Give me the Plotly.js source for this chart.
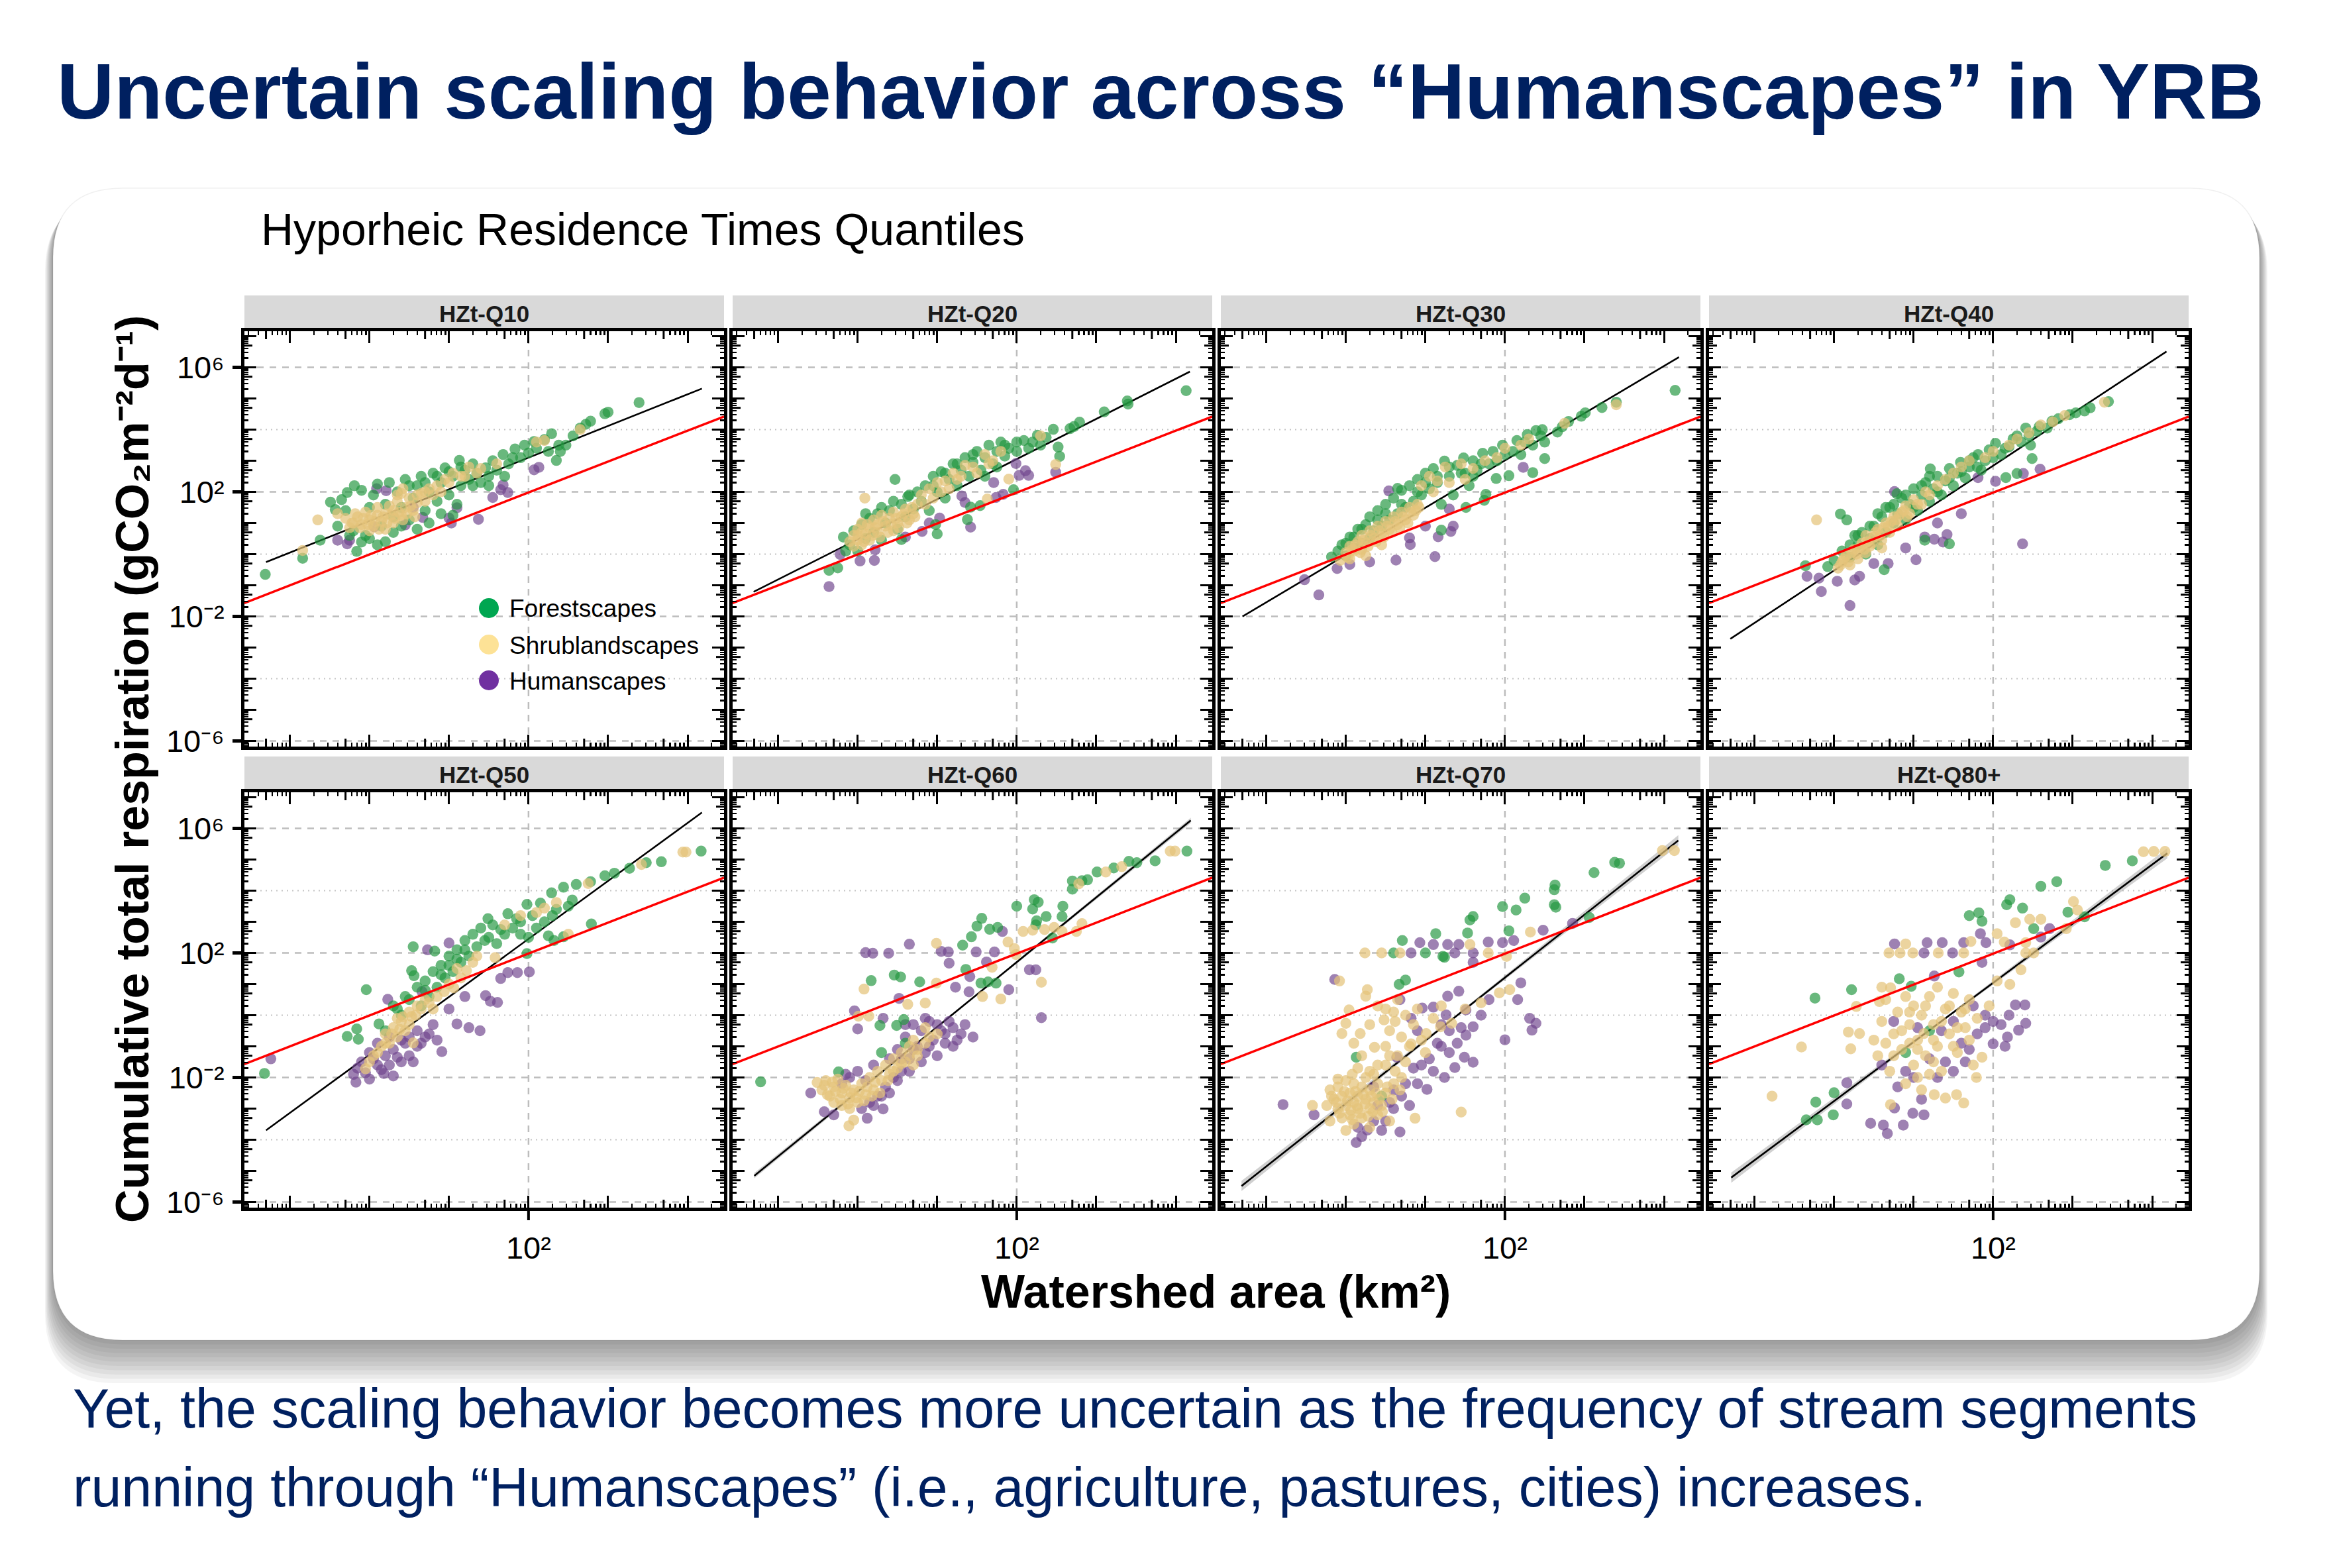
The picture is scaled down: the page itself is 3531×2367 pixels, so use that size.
<!DOCTYPE html>
<html><head><meta charset="utf-8">
<script src="https://cdn.plot.ly/plotly-3.0.1.min.js"></script>
<style>html,body{margin:0;padding:0;background:#fff}#chart{width:3531px;height:2367px}</style>
</head><body><div id="chart"></div>
<script>
// ---------------- DATA (log10 watershed area km², log10 respiration gCO2 m-2 d-1) ----------------
const PANEL_NAMES = ['HZt-Q10','HZt-Q20','HZt-Q30','HZt-Q40','HZt-Q50','HZt-Q60','HZt-Q70','HZt-Q80+'];
const LEGEND_LABELS = ['Forestscapes','Shrublandscapes','Humanscapes'];
const Y_TICK_VALS = [1e-6,1e-2,1e2,1e6];
const Y_TICK_TEXT = ['10⁻⁶','10⁻²','10²','10⁶'];
const X_TICK_VALS = [1e2];
const X_TICK_TEXT = ['10²'];
const Y_MINOR_GRID = [1e-4,1,1e4];

const Q10_FOREST = [[-1.31,-0.65],[-0.84,-0.13],[-0.62,0.45],[-0.49,1.67],[-0.43,1.43],[-0.28,1.98],[-0.19,2.2],[-0.16,0.09],[-0.10,0.39],[-0.05,0.6],[0.0,1.5],[0.05,1.9],[0.1,2.25],[0.15,0.9],[0.2,1.6],[0.25,2.3],[0.3,1.2],[0.35,2.0],[0.4,1.5],[0.45,2.4],[0.5,1.1],[0.55,1.8],[0.6,2.2],[0.65,2.5],[0.7,1.4],[0.75,2.0],[0.8,2.6],[0.85,1.7],[0.9,2.3],[0.95,2.77],[1.0,1.9],[1.05,2.5],[1.13,3.01],[1.15,2.2],[1.2,2.7],[1.25,2.4],[1.3,2.9],[1.35,2.6],[1.4,2.3],[1.46,2.77],[1.5,2.5],[1.55,3.0],[1.6,2.7],[1.68,3.2],[1.75,2.9],[1.83,3.38],[1.9,3.1],[1.95,3.5],[2.0,3.25],[2.07,3.62],[2.2,3.68],[2.29,3.87],[2.38,3.5],[2.35,3.01],[2.47,3.5],[2.56,3.8],[2.65,4.05],[2.72,4.17],[2.78,4.27],[2.96,4.51],[3.0,4.56],[3.39,4.87],[0.75,1.0],[0.9,1.3],[1.1,1.6],[0.6,0.8],[-0.3,1.4],[-0.2,0.75],[0.1,0.3],[0.3,0.7],[1.05,1.25],[-0.35,1.75],[-0.1,2.05],[-0.4,0.9],[-0.25,0.6],[0.0,0.5],[0.2,0.4],[0.4,0.9],[0.5,2.2],[0.7,2.3],[0.85,2.5],[1.0,2.65],[1.15,2.8],[1.3,2.2],[1.5,2.2],[1.7,2.5],[1.8,3.1],[2.1,3.4],[2.25,3.3],[2.4,3.3]];
const Q10_SHRUB = [[-0.84,0.12],[-0.65,1.10],[-0.40,1.30],[-0.30,1.15],[-0.25,0.85],[-0.2,1.0],[-0.15,1.2],[-0.1,0.95],[-0.05,1.35],[0.0,1.1],[0.0,0.75],[0.05,0.9],[0.1,1.25],[0.1,1.5],[0.15,1.05],[0.2,1.3],[0.2,0.8],[0.25,1.55],[0.3,1.0],[0.3,1.4],[0.35,1.7],[0.4,1.25],[0.4,1.95],[0.45,1.5],[0.5,1.8],[0.55,1.4],[0.6,1.65],[0.65,1.95],[0.7,1.7],[0.75,2.1],[0.8,1.9],[0.85,2.2],[0.95,2.4],[1.05,2.6],[1.15,2.5],[1.25,2.8],[1.4,2.75],[1.6,2.9],[2.1,3.6],[2.2,3.65],[2.65,4.0],[-0.22,1.0],[-0.18,1.3],[-0.12,0.85],[-0.08,1.15],[-0.02,0.95],[0.02,1.25],[0.07,1.05],[0.12,0.8],[0.17,1.2],[0.22,1.0],[0.27,1.25],[0.32,1.15],[0.37,1.35],[0.42,1.1],[0.47,1.3],[0.52,1.55],[0.57,1.2],[0.35,1.9],[0.42,2.1],[0.6,1.9],[0.7,2.0],[0.9,2.0],[1.0,2.3],[1.2,2.5],[1.35,2.6]];
const Q10_HUMAN = [[-0.40,0.45],[-0.28,0.33],[-0.25,0.45],[0.06,0.88],[0.09,2.1],[0.21,2.04],[0.45,0.94],[0.55,1.5],[0.67,1.18],[1.0,1.16],[1.03,1.0],[1.1,1.49],[1.37,1.12],[1.55,1.82],[1.65,2.07],[1.68,2.22],[1.74,1.98],[2.07,2.71],[2.13,2.79]];

const Q20_FOREST = [[-0.36,-0.52],[-0.25,-0.44],[-0.18,0.55],[-0.1,0.3],[-0.05,0.75],[0.0,0.1],[0.05,0.95],[0.1,0.5],[0.15,1.15],[0.2,0.7],[0.25,1.3],[0.3,0.45],[0.35,1.0],[0.4,1.4],[0.47,2.4],[0.5,0.8],[0.55,1.6],[0.55,0.47],[0.6,1.2],[0.63,1.85],[0.7,1.45],[0.75,2.0],[0.8,1.7],[0.85,2.2],[0.9,1.4],[0.95,2.5],[0.98,0.95],[1.0,2.0],[1.0,0.65],[1.05,2.65],[1.1,1.8],[1.15,2.4],[1.2,2.9],[1.25,2.2],[1.3,2.7],[1.35,3.1],[1.38,1.11],[1.4,2.5],[1.42,1.51],[1.45,2.95],[1.5,3.3],[1.54,1.56],[1.55,2.7],[1.6,3.1],[1.65,3.5],[1.7,2.9],[1.75,3.3],[1.8,3.6],[1.85,3.15],[1.9,3.4],[1.96,2.07],[2.0,3.6],[2.09,3.65],[2.15,3.4],[2.26,3.82],[2.37,3.75],[2.46,4.01],[2.52,3.44],[2.54,3.14],[2.67,4.03],[2.72,4.1],[2.79,4.24],[3.1,4.57],[3.39,4.92],[3.4,4.82],[4.13,5.25],[-0.15,0.1],[0.1,1.3],[0.3,1.5],[0.45,1.7],[0.65,1.9],[0.95,2.2],[1.1,2.6],[1.25,2.9],[1.45,3.2],[1.6,2.5],[1.75,2.8],[1.85,3.5],[2.0,3.3],[2.2,3.6],[2.3,3.5]];
const Q20_SHRUB = [[-0.1,0.4],[-0.05,0.6],[0.0,0.45],[0.0,0.8],[0.05,0.3],[0.05,1.0],[0.09,1.8],[0.1,0.65],[0.15,0.85],[0.15,0.45],[0.2,1.1],[0.25,0.7],[0.25,0.95],[0.3,1.25],[0.35,0.9],[0.4,1.15],[0.45,0.75],[0.45,1.35],[0.5,1.0],[0.55,1.2],[0.6,1.45],[0.65,1.1],[0.7,1.3],[0.75,1.6],[0.8,1.9],[0.9,2.1],[1.0,2.3],[1.1,2.35],[1.2,2.6],[1.3,2.5],[1.35,2.85],[1.45,2.8],[1.6,3.2],[1.63,1.77],[1.65,2.9],[1.8,3.3],[1.9,2.41],[2.3,3.8],[2.49,2.88],[-0.05,0.25],[0.0,0.6],[0.05,0.7],[0.08,0.4],[0.12,0.95],[0.18,0.6],[0.22,0.85],[0.28,0.55],[0.32,1.05],[0.38,0.7],[0.42,0.95],[0.48,1.15],[0.52,0.85],[0.58,1.3],[0.62,1.0],[0.68,1.5],[0.72,1.2],[0.85,1.6],[0.95,1.8],[1.05,2.0],[1.15,2.1],[1.25,2.4],[1.5,2.6],[1.7,3.0]];
const Q20_HUMAN = [[-0.36,-1.04],[-0.22,-0.01],[0.03,-0.22],[0.21,-0.2],[0.22,0.14],[0.6,0.55],[0.81,0.73],[0.9,1.0],[1.03,1.16],[1.31,1.87],[1.35,1.66],[1.42,0.87],[1.71,2.3],[1.74,1.82],[1.83,1.92],[1.99,2.91],[2.03,2.53],[2.11,2.68],[2.15,2.53],[2.49,2.63]];

const Q30_FOREST = [[-0.18,-0.09],[-0.1,0.1],[-0.05,0.3],[0.0,-0.05],[0.05,0.55],[0.1,0.2],[0.15,0.8],[0.2,0.35],[0.25,0.95],[0.3,0.5],[0.3,1.2],[0.35,0.75],[0.4,1.4],[0.45,0.9],[0.5,1.6],[0.55,1.1],[0.6,1.8],[0.65,1.3],[0.65,2.11],[0.7,2.05],[0.75,1.5],[0.8,2.2],[0.85,1.7],[0.9,2.4],[0.95,1.9],[1.0,2.6],[1.05,2.1],[1.1,2.75],[1.15,2.3],[1.2,1.6],[1.2,0.77],[1.24,2.99],[1.3,2.5],[1.35,1.9],[1.4,2.85],[1.48,3.09],[1.5,2.6],[1.51,1.5],[1.55,2.2],[1.6,3.0],[1.65,2.7],[1.72,3.24],[1.74,1.73],[1.76,1.92],[1.8,2.9],[1.85,3.3],[1.89,2.43],[1.97,3.5],[2.05,2.52],[2.1,3.3],[2.15,3.65],[2.2,3.2],[2.28,3.84],[2.35,3.5],[2.35,2.62],[2.39,3.97],[2.47,4.0],[2.5,3.07],[2.5,3.6],[2.66,3.92],[2.72,4.09],[2.8,4.26],[2.96,4.43],[3.01,4.54],[3.22,4.71],[3.4,4.88],[4.14,5.26],[0.0,0.35],[0.1,0.55],[0.2,0.8],[0.4,1.1],[0.5,1.3],[0.7,1.6],[0.9,2.0],[1.0,2.3],[1.15,2.5],[1.3,2.8],[1.45,2.6],[1.6,2.5],[1.7,2.9],[1.9,3.0],[2.0,3.2],[2.25,3.6],[2.45,3.8]];
const Q30_SHRUB = [[-0.07,-0.2],[0.0,0.05],[0.05,-0.15],[0.05,0.25],[0.1,0.1],[0.15,0.4],[0.2,0.15],[0.2,0.6],[0.25,0.35],[0.25,-0.05],[0.3,0.75],[0.35,0.5],[0.4,0.9],[0.45,0.65],[0.45,0.3],[0.5,1.05],[0.55,0.8],[0.6,1.2],[0.65,0.95],[0.7,1.35],[0.75,1.1],[0.8,1.5],[0.85,1.25],[0.9,1.6],[0.95,2.2],[1.05,2.5],[1.15,2.35],[1.25,2.8],[1.45,2.9],[1.6,2.75],[1.75,3.0],[2.0,3.4],[2.3,3.7],[2.75,4.2],[3.4,4.8],[0.02,-0.1],[0.08,0.15],[0.12,0.3],[0.18,0.05],[0.22,0.45],[0.28,0.25],[0.32,0.6],[0.38,0.4],[0.42,0.75],[0.48,0.55],[0.52,0.9],[0.58,0.7],[0.62,1.05],[0.68,0.85],[0.72,1.2],[0.78,1.0],[0.82,1.35],[0.88,1.4],[0.92,1.5],[1.1,2.0],[1.3,2.3],[1.5,2.4],[1.9,3.1],[2.2,3.5]];
const Q30_HUMAN = [[-0.52,-0.82],[-0.34,-1.31],[-0.11,-0.46],[0.05,-0.33],[0.3,-0.25],[0.54,2.03],[0.63,-0.19],[0.8,0.52],[0.81,0.31],[1.0,0.9],[1.12,-0.08],[1.16,0.56],[1.3,1.45],[1.32,0.73],[1.35,0.9],[2.23,2.79]];

const Q40_FOREST = [[-0.36,-0.37],[-0.08,-0.4],[0.0,-0.2],[0.08,1.29],[0.1,0.1],[0.16,1.1],[0.2,-0.1],[0.26,0.6],[0.3,0.3],[0.35,0.7],[0.4,0.0],[0.45,0.5],[0.5,0.9],[0.55,0.3],[0.6,1.2],[0.63,-0.5],[0.65,0.7],[0.7,1.5],[0.75,1.0],[0.79,1.94],[0.8,1.3],[0.85,1.8],[0.9,1.1],[0.95,1.6],[1.0,2.1],[1.05,1.4],[1.1,1.9],[1.14,0.45],[1.15,2.3],[1.2,1.7],[1.21,2.74],[1.25,2.1],[1.3,2.5],[1.35,1.9],[1.4,2.35],[1.45,2.75],[1.45,0.33],[1.5,2.2],[1.55,2.6],[1.59,2.95],[1.65,2.45],[1.7,2.8],[1.75,3.1],[1.81,3.2],[1.85,2.7],[1.9,3.0],[1.95,3.35],[2.03,3.56],[2.1,3.2],[2.16,2.46],[2.2,3.45],[2.3,3.8],[2.3,2.59],[2.35,3.6],[2.41,4.05],[2.47,3.5],[2.49,3.07],[2.58,4.1],[2.68,4.05],[2.74,4.27],[2.82,4.35],[2.96,4.48],[3.04,4.54],[3.15,4.6],[3.22,4.7],[3.45,4.9],[0.2,0.3],[0.3,0.6],[0.45,0.9],[0.55,1.3],[0.65,1.5],[0.75,1.6],[0.9,1.9],[1.0,1.5],[1.1,2.2],[1.2,2.5],[1.3,2.0],[1.45,2.45],[1.6,2.65],[1.7,3.0],[1.8,2.8],[2.0,3.1],[2.15,3.4],[2.25,3.7],[2.45,3.8],[2.55,3.95]];
const Q40_SHRUB = [[-0.22,1.1],[0.05,-0.45],[0.1,-0.25],[0.15,-0.05],[0.2,-0.35],[0.25,0.15],[0.3,-0.15],[0.35,0.35],[0.4,0.05],[0.4,0.6],[0.45,0.25],[0.5,0.55],[0.55,0.8],[0.6,0.45],[0.6,0.2],[0.65,1.0],[0.7,0.7],[0.75,1.2],[0.8,0.9],[0.85,1.35],[0.9,1.55],[0.95,1.3],[1.0,1.75],[1.1,1.6],[1.15,2.0],[1.3,2.2],[1.5,2.6],[1.7,3.0],[1.9,3.1],[2.2,3.5],[2.45,3.9],[2.6,4.15],[2.75,4.25],[2.9,4.45],[3.4,4.88],[0.08,-0.35],[0.12,-0.15],[0.18,-0.25],[0.22,0.05],[0.28,0.0],[0.32,0.2],[0.38,0.15],[0.42,0.4],[0.48,0.35],[0.52,0.7],[0.58,0.6],[0.62,0.85],[0.68,0.9],[0.72,1.05],[0.78,1.1],[0.82,1.25],[0.88,1.4],[0.92,1.2],[1.05,1.6],[1.2,1.9],[1.4,2.4],[1.6,2.8],[2.0,3.3],[2.3,3.7]];
const Q40_HUMAN = [[-0.34,-0.71],[-0.19,-0.77],[-0.16,-1.2],[0.04,-0.87],[0.2,-1.65],[0.26,-0.83],[0.32,-0.71],[0.5,-0.3],[0.68,-0.3],[0.76,2.01],[0.9,0.2],[1.03,-0.18],[1.14,0.55],[1.26,0.48],[1.3,1.0],[1.37,0.39],[1.42,0.63],[1.6,1.3],[1.81,2.46],[2.03,2.34],[2.37,0.33],[2.38,2.59],[2.59,2.73]];

const Q50_FOREST = [[-1.32,-1.87],[-0.28,-0.68],[-0.16,-0.44],[-0.14,-0.77],[-0.04,0.82],[0.12,-0.28],[0.55,2.2],[0.82,2.06],[0.53,1.43],[0.56,1.27],[0.3,0.3],[0.4,0.0],[0.45,0.6],[0.6,0.9],[0.65,0.3],[0.7,1.1],[0.75,0.6],[0.8,1.4],[0.85,0.9],[0.9,1.6],[0.95,1.2],[1.0,1.9],[1.05,1.4],[1.1,2.1],[1.15,1.7],[1.2,2.4],[1.25,1.9],[1.3,2.6],[1.35,2.2],[1.4,2.8],[1.49,3.1],[1.5,2.5],[1.55,2.9],[1.6,2.3],[1.65,2.75],[1.74,3.26],[1.8,2.8],[1.85,3.1],[1.9,2.6],[1.98,3.56],[1.98,1.98],[2.05,3.2],[2.1,2.8],[2.15,3.6],[2.2,3.0],[2.25,2.55],[2.29,3.93],[2.32,2.4],[2.35,3.4],[2.44,2.52],[2.44,4.11],[2.55,3.7],[2.6,4.2],[2.78,4.29],[2.79,2.93],[2.96,4.48],[3.08,4.56],[3.27,4.72],[3.48,4.9],[3.67,4.93],[4.17,5.27],[0.2,-0.5],[0.35,0.2],[0.5,0.5],[0.7,0.8],[0.9,1.3],[1.0,1.6],[1.1,1.8],[1.2,2.1],[1.45,2.4],[1.7,2.6],[1.9,3.0],[2.0,2.5],[2.3,3.2],[2.5,3.5]];
const Q50_SHRUB = [[-0.05,-1.72],[0.05,-1.3],[0.15,-1.0],[0.2,-0.6],[0.25,-0.9],[0.3,-0.4],[0.35,-0.7],[0.35,-0.1],[0.4,-0.2],[0.45,-0.5],[0.5,0.1],[0.53,-0.04],[0.55,-0.89],[0.6,0.3],[0.7,0.5],[0.8,0.2],[0.94,0.76],[1.06,0.88],[1.15,1.2],[1.22,1.43],[1.35,1.9],[1.58,1.85],[1.7,2.9],[1.9,3.2],[2.1,3.3],[2.2,3.44],[2.35,3.62],[2.5,2.6],[2.75,4.23],[3.42,4.84],[3.94,5.24],[3.98,5.24],[0.0,-1.5],[0.1,-1.2],[0.2,-0.9],[0.28,-0.6],[0.38,-0.45],[0.42,-0.05],[0.5,-0.3],[0.58,0.0],[0.65,0.2],[0.75,0.4],[0.85,0.6],[1.0,1.0],[1.1,1.5],[1.3,1.7]];
const Q50_HUMAN = [[-1.24,-1.4],[-0.2,-1.9],[-0.17,-2.15],[-0.1,-1.5],[0.0,-2.05],[0.0,-1.2],[0.1,-1.6],[0.1,-0.9],[0.18,-1.87],[0.2,-1.3],[0.23,0.51],[0.3,-1.95],[0.3,-1.1],[0.4,-1.5],[0.45,-0.9],[0.5,-1.3],[0.6,-1.0],[0.6,-0.5],[0.66,0.76],[0.7,-0.7],[0.73,2.1],[0.8,-0.3],[0.91,-1.17],[1.0,2.32],[1.0,0.2],[1.1,-0.28],[1.2,0.6],[1.25,-0.4],[1.39,-0.5],[1.46,0.63],[1.52,0.45],[1.61,0.41],[1.65,1.18],[1.74,1.37],[1.86,1.37],[2.01,1.39],[-0.15,-1.7],[-0.05,-1.85],[0.05,-1.4],[0.15,-1.75],[0.25,-1.6],[0.25,-0.7],[0.35,-1.35],[0.4,-0.8],[0.5,-0.7],[0.55,-1.5],[0.65,-0.9],[0.75,-0.6],[0.85,-0.8]];

const Q60_FOREST = [[-1.22,-2.14],[-0.24,-1.82],[0.17,1.11],[0.28,-0.33],[0.3,-1.2],[0.46,1.29],[0.49,-0.33],[0.54,1.23],[0.58,-0.14],[0.6,-0.9],[0.78,1.07],[1.32,2.25],[1.36,1.47],[1.43,2.52],[1.5,2.86],[1.55,1.03],[1.56,3.11],[1.64,1.07],[1.66,2.76],[1.74,1.03],[1.76,2.82],[2.0,3.5],[2.2,3.41],[2.22,3.71],[2.24,2.9],[2.25,3.03],[2.27,3.63],[2.37,3.17],[2.45,2.48],[2.57,3.17],[2.58,3.5],[2.7,4.31],[2.7,4.05],[2.82,4.32],[2.89,4.35],[3.01,4.6],[3.22,4.73],[3.41,4.94],[3.51,4.9],[3.74,4.96],[4.14,5.27]];
const Q60_SHRUB = [[-0.51,-2.16],[-0.45,-2.4],[-0.4,-2.1],[-0.35,-2.6],[-0.3,-2.3],[-0.3,-2.8],[-0.25,-2.05],[-0.2,-2.5],[-0.2,-2.9],[-0.15,-2.25],[-0.11,-3.55],[-0.1,-2.65],[-0.1,-3.0],[-0.05,-2.4],[-0.05,-3.37],[0.0,-2.8],[0.05,-2.2],[0.1,-2.55],[0.15,-2.0],[0.2,-2.4],[0.25,-1.8],[0.3,-2.1],[0.35,-1.6],[0.4,-1.9],[0.45,-1.4],[0.5,-1.7],[0.55,-1.2],[0.6,-1.5],[0.65,-1.0],[0.7,-0.8],[0.75,-1.3],[0.85,-0.4],[0.9,-0.7],[0.01,-0.03],[0.14,-0.03],[0.08,0.84],[0.63,0.35],[0.85,0.39],[0.99,1.03],[0.99,2.31],[1.57,0.6],[1.8,0.52],[1.69,1.54],[1.89,2.35],[1.99,1.95],[1.97,2.14],[2.08,2.69],[2.2,2.73],[2.31,1.06],[2.35,2.75],[2.47,2.82],[2.57,2.69],[2.75,2.69],[2.78,4.22],[2.82,2.94],[3.12,4.6],[3.32,4.77],[3.93,5.27],[3.99,5.27],[-0.42,-2.25],[-0.38,-2.55],[-0.32,-2.15],[-0.28,-2.45],[-0.22,-2.7],[-0.18,-2.35],[-0.12,-2.85],[-0.08,-2.5],[-0.02,-2.65],[0.02,-2.45],[0.08,-2.75],[0.12,-2.3],[0.18,-2.6],[0.22,-2.15],[0.28,-2.5],[0.38,-2.1],[0.45,-1.8],[0.55,-1.55],[0.65,-1.3],[0.75,-1.1],[0.85,-0.9],[1.0,-0.6],[0.7,-1.6]];
const Q60_HUMAN = [[-0.59,-2.5],[-0.42,-3.1],[-0.3,-3.2],[-0.15,-1.9],[-0.04,0.14],[0.0,-1.8],[0.0,-0.44],[0.05,-3.0],[0.1,2.01],[0.12,-3.31],[0.15,-2.8],[0.19,1.99],[0.2,-1.6],[0.25,-2.6],[0.32,-3.01],[0.32,-0.1],[0.35,-2.3],[0.39,1.99],[0.4,-1.4],[0.45,-2.0],[0.5,-1.1],[0.52,0.54],[0.55,-1.8],[0.6,-0.7],[0.65,2.28],[0.65,-1.4],[0.7,-0.3],[0.75,-1.0],[0.8,-0.5],[0.85,-1.2],[0.9,-0.2],[0.95,-0.8],[1.0,-1.3],[1.05,-0.5],[1.05,2.05],[1.1,-0.9],[1.14,2.03],[1.15,-0.2],[1.15,1.67],[1.2,-1.0],[1.23,0.9],[1.3,-0.6],[1.4,0.75],[1.41,1.24],[1.45,-0.7],[1.49,2.03],[1.62,1.71],[1.72,2.03],[1.82,2.69],[1.9,0.82],[2.16,1.46],[2.24,1.46],[2.31,-0.08],[-0.2,-2.2],[-0.1,-2.0],[0.1,-2.1],[0.2,-2.9],[0.3,-2.6],[0.4,-2.5],[0.5,-2.1],[0.55,-1.4],[0.65,-1.8],[0.7,-1.1],[0.8,-1.5],[0.9,-1.0],[1.0,-0.3],[1.1,-0.6],[1.2,-0.4],[1.25,-0.8],[1.35,-0.3],[0.85,-0.1],[0.6,-0.3]];

const Q70_FOREST = [[0.13,-1.35],[0.45,-2.6],[0.6,2.0],[0.67,0.99],[0.71,2.4],[0.75,1.13],[1.0,2.0],[1.13,2.62],[1.22,1.89],[1.24,1.86],[1.53,2.64],[1.56,3.06],[1.6,3.17],[1.97,3.49],[2.05,2.71],[2.14,3.38],[2.25,3.76],[2.62,3.55],[2.62,4.03],[2.63,4.18],[2.64,3.47],[3.06,3.14],[3.12,4.58],[3.38,4.91],[3.44,4.88]];
const Q70_SHRUB = [[-0.42,-2.9],[-0.24,-2.9],[-0.2,-2.4],[-0.2,-3.4],[-0.15,-2.7],[-0.1,-2.3],[-0.1,-3.0],[-0.1,-2.05],[-0.05,-2.6],[-0.05,-3.3],[0.0,-2.1],[0.0,-2.9],[0.0,-3.7],[0.05,-2.5],[0.05,-3.2],[0.08,-1.9],[0.1,-2.2],[0.1,-2.8],[0.1,-3.5],[0.15,-2.6],[0.15,-3.0],[0.2,-2.3],[0.2,-3.3],[0.25,-2.7],[0.25,-2.0],[0.3,-3.0],[0.3,-2.4],[0.3,-3.6],[0.35,-2.8],[0.35,-1.9],[0.4,-3.2],[0.4,-2.2],[0.45,-2.9],[0.5,-2.5],[0.5,-1.6],[0.55,-3.4],[0.6,-2.2],[0.65,-1.3],[0.7,-2.0],[-0.05,-0.59],[0.0,-0.26],[0.04,0.17],[0.27,0.82],[0.25,0.61],[-0.08,1.1],[0.48,-0.15],[0.82,-0.92],[1.01,-0.59],[1.19,-0.37],[1.33,-0.26],[0.36,-1.03],[0.18,-0.59],[0.3,-0.3],[0.4,0.3],[0.55,-0.5],[0.6,0.1],[0.65,0.5],[0.7,-0.7],[0.85,-0.3],[0.9,0.2],[1.1,-0.1],[1.2,0.3],[1.5,0.2],[1.7,0.4],[1.93,0.72],[2.06,0.82],[1.45,-3.11],[0.87,-3.31],[0.2,-1.3],[0.5,-1.0],[0.75,-1.5],[1.0,-1.2],[0.1,-0.9],[0.24,2.0],[0.45,2.0],[0.68,2.0],[1.79,2.0],[2.02,1.89],[2.32,2.67],[1.56,2.27],[3.98,5.29],[4.13,5.29],[-0.18,-2.6],[-0.12,-2.8],[-0.08,-3.15],[-0.02,-2.45],[0.02,-2.75],[0.06,-3.05],[0.08,-3.35],[0.12,-2.45],[0.14,-2.9],[0.18,-3.15],[0.22,-2.55],[0.24,-2.85],[0.28,-3.25],[0.32,-2.6],[0.34,-3.1],[0.38,-2.5],[0.42,-2.7],[0.46,-3.1],[0.52,-2.3],[0.58,-2.7],[0.62,-1.8],[0.68,-2.4],[0.4,-1.6],[0.55,-1.3],[0.3,-1.8],[0.15,-1.7],[0.8,-1.0],[0.95,-0.8],[0.62,-0.2],[0.75,0.0],[0.5,0.2]];
const Q70_HUMAN = [[-0.79,-2.87],[-0.4,-3.2],[-0.14,1.15],[0.13,-4.09],[0.2,-3.9],[0.27,-3.69],[0.35,-2.3],[0.45,-3.7],[0.5,-3.4],[0.6,-3.0],[0.64,-1.35],[0.68,-3.75],[0.68,0.5],[0.7,-2.6],[0.8,-2.9],[0.82,-0.1],[0.82,2.0],[0.9,-2.2],[0.93,2.33],[0.95,-1.6],[0.96,0.23],[1.02,-2.38],[1.1,0.26],[1.1,-1.8],[1.1,2.27],[1.15,-0.9],[1.24,-2.0],[1.26,0.01],[1.28,0.61],[1.28,2.27],[1.3,-1.2],[1.3,-0.5],[1.37,-1.68],[1.37,2.0],[1.4,-0.9],[1.42,0.77],[1.42,2.27],[1.49,-1.35],[1.51,0.17],[1.51,-0.64],[1.6,-0.37],[1.6,-1.51],[1.6,2.0],[1.6,1.7],[1.7,0.0],[1.79,2.35],[1.8,0.5],[1.97,2.33],[2.0,-0.79],[2.11,2.4],[2.16,0.5],[2.2,1.04],[2.31,-0.1],[2.34,-0.48],[2.39,-0.26],[2.48,2.73],[2.85,2.95],[0.15,-3.6],[0.35,-3.4],[0.4,-2.9],[0.55,-2.8],[0.6,-2.4],[0.75,-2.2],[0.85,-1.7],[1.05,-1.4],[1.2,-1.0],[1.45,-0.4],[1.2,-0.3],[0.9,-0.5]];

const Q80_FOREST = [[-0.35,-3.36],[-0.24,0.55],[-0.23,-2.79],[-0.21,-3.36],[-0.01,-3.2],[0.0,-2.49],[0.22,0.82],[0.82,1.17],[0.9,-1.2],[0.97,0.93],[1.2,-0.5],[1.57,1.39],[1.7,3.2],[1.82,3.29],[1.86,3.02],[2.17,3.55],[2.21,3.71],[2.37,3.44],[2.51,2.78],[2.6,4.14],[2.8,4.29],[2.94,3.31],[3.15,3.16],[3.41,4.81],[3.75,4.96]];
const Q80_SHRUB = [[-0.78,-2.6],[-0.41,-1.02],[0.18,-0.54],[0.21,-1.08],[0.28,0.28],[0.32,-0.59],[0.5,-0.8],[0.55,-1.3],[0.57,0.44],[0.6,-0.2],[0.6,0.9],[0.65,0.5],[0.7,-1.8],[0.71,-2.87],[0.71,0.88],[0.75,-0.6],[0.8,0.1],[0.85,-1.1],[0.9,-2.2],[0.9,0.6],[0.95,-0.3],[0.95,-0.9],[1.0,-1.6],[1.0,0.3],[1.05,-0.8],[1.1,-2.4],[1.1,0.0],[1.13,-0.59],[1.15,-1.3],[1.2,0.6],[1.2,-1.9],[1.25,-0.3],[1.26,-2.55],[1.3,-1.0],[1.3,0.9],[1.35,-1.8],[1.4,0.2],[1.4,-2.66],[1.45,-0.6],[1.5,0.7],[1.54,-2.55],[1.55,-1.2],[1.6,0.1],[1.63,-2.82],[1.65,-0.4],[1.7,0.5],[1.75,-1.6],[1.79,-2.0],[1.8,-0.1],[1.86,-1.35],[1.95,0.3],[2.05,1.1],[2.21,0.99],[2.35,1.46],[0.69,2.0],[0.83,2.0],[0.99,2.0],[1.31,2.0],[1.63,2.0],[2.41,2.0],[2.51,2.0],[0.9,2.29],[1.72,2.37],[2.14,2.35],[2.41,2.33],[2.05,2.62],[2.28,2.97],[2.46,3.08],[2.6,3.08],[2.92,2.78],[3.01,3.65],[3.06,3.38],[3.89,5.25],[4.02,5.26],[4.16,5.26],[0.85,-0.5],[0.95,0.1],[1.05,-1.1],[1.15,0.3],[1.25,-0.8],[1.35,-0.2],[1.45,0.3],[1.55,-0.4],[1.65,0.2],[1.05,-2.0],[1.25,-1.5],[1.5,-1.0],[1.7,-0.8],[0.75,-1.3],[0.65,-0.9]];
const Q80_HUMAN = [[0.16,-2.85],[0.16,-2.17],[0.46,-3.47],[0.6,-1.6],[0.62,-3.53],[0.67,-3.8],[0.75,-0.2],[0.76,-2.98],[0.76,2.29],[0.8,-2.3],[0.87,-3.53],[0.99,-3.15],[1.0,-2.0],[1.05,-0.4],[1.13,-3.2],[1.13,2.0],[1.17,2.33],[1.2,-1.4],[1.26,1.26],[1.36,2.33],[1.4,-1.5],[1.49,2.0],[1.5,-0.2],[1.6,-0.9],[1.63,2.33],[1.7,-1.1],[1.8,-0.6],[1.84,2.62],[1.86,1.7],[1.9,0.0],[1.91,2.33],[2.0,-0.92],[2.1,-0.3],[2.18,-0.7],[2.21,2.26],[2.28,0.33],[2.32,-0.48],[2.4,0.33],[2.41,-0.26],[2.6,2.51],[2.71,2.78],[0.9,-1.8],[1.1,-2.7],[1.3,-2.0],[1.5,-1.8],[1.65,-1.5],[1.9,-0.4],[2.0,-0.2],[2.2,0.0],[1.35,-0.5],[1.75,0.3],[2.15,-1.0]];

// fitted power-law lines (start, end) and confidence ribbons [x, lo, hi]
const Q10_FIT = [[-1.30,-0.256],[4.18,5.317]];
const Q20_FIT = [[-1.308,-1.211],[4.177,5.862]];
const Q30_FIT = [[-1.30,-2.0],[4.188,6.33]];
const Q40_FIT = [[-1.304,-2.72],[4.18,6.51]];
const Q50_FIT = [[-1.30,-3.695],[4.18,6.51]];
const Q60_FIT = [[-1.30,-5.157],[4.188,6.255]];
const Q70_FIT = [[-1.312,-5.486],[4.18,5.613]];
const Q80_FIT = [[-1.293,-5.214],[4.19,5.2]];
const Q60_BAND = [[-1.30,-5.24,-5.07],[1.44,0.50,0.57],[4.188,6.17,6.34]];
const Q70_BAND = [[-1.312,-5.65,-5.32],[1.43,0.02,0.10],[4.18,5.45,5.78]];
const Q80_BAND = [[-1.293,-5.38,-5.05],[1.45,-0.04,0.04],[4.19,5.04,5.36]];
const REF_LINE = [[-1.572,-1.57],[4.458,4.42]];

// ---------------- LAYOUT CONSTANTS ----------------
const W = 3531, H = 2367;
const COL_LEFT = [369,1106,1843,2580], PANEL_W = 724;
const ROW_TOP = [500,1196], PANEL_H = 627;
const X_RANGE = [-1.572,4.458], Y_RANGE = [-6.18,7.16];
const NAVY = '#002060';
const C_FOREST = 'rgba(34,150,64,0.68)', C_SHRUB = 'rgba(228,196,122,0.72)', C_HUMAN = 'rgba(112,70,142,0.68)';
const LEG_COLORS = ['#00A651','#FDE296','#7030A0'];
const FONT = '"Liberation Sans", Arial, sans-serif';

const PANELS = [
  {name:PANEL_NAMES[0], f:Q10_FOREST, s:Q10_SHRUB, h:Q10_HUMAN, fit:Q10_FIT, band:null},
  {name:PANEL_NAMES[1], f:Q20_FOREST, s:Q20_SHRUB, h:Q20_HUMAN, fit:Q20_FIT, band:null},
  {name:PANEL_NAMES[2], f:Q30_FOREST, s:Q30_SHRUB, h:Q30_HUMAN, fit:Q30_FIT, band:null},
  {name:PANEL_NAMES[3], f:Q40_FOREST, s:Q40_SHRUB, h:Q40_HUMAN, fit:Q40_FIT, band:null},
  {name:PANEL_NAMES[4], f:Q50_FOREST, s:Q50_SHRUB, h:Q50_HUMAN, fit:Q50_FIT, band:null},
  {name:PANEL_NAMES[5], f:Q60_FOREST, s:Q60_SHRUB, h:Q60_HUMAN, fit:Q60_FIT, band:Q60_BAND},
  {name:PANEL_NAMES[6], f:Q70_FOREST, s:Q70_SHRUB, h:Q70_HUMAN, fit:Q70_FIT, band:Q70_BAND},
  {name:PANEL_NAMES[7], f:Q80_FOREST, s:Q80_SHRUB, h:Q80_HUMAN, fit:Q80_FIT, band:Q80_BAND}
];

const toV = v => Math.pow(10, v);
const axName = (l,i) => l+'axis'+(i===1?'':i);
const axRef = (l,i) => l+(i===1?'':i);
const PX = x => x/W, PY = y => 1 - y/H;
const xf = lv => (lv - X_RANGE[0])/(X_RANGE[1]-X_RANGE[0]);
const yf = lv => (lv - Y_RANGE[0])/(Y_RANGE[1]-Y_RANGE[0]);
const sameLog = (a,b) => Math.abs(Math.log10(a)-Math.log10(b)) < 1e-9;

function logTickSets(kMin,kMax){
  const dec=[],five=[],other=[];
  for(let k=kMin;k<=kMax;k++){const b=Math.pow(10,k);dec.push(b);five.push(5*b);[2,3,4,6,7,8,9].forEach(m=>other.push(m*b));}
  return {dec,five,other};
}
const XT = logTickSets(-2,4), YT = logTickSets(-7,7);
const labelFor = (vals, texts) => v => { const i = vals.findIndex(t=>sameLog(t,v)); return i>=0 ? texts[i] : ''; };
const X_DEC_TEXT = XT.dec.map(labelFor(X_TICK_VALS, X_TICK_TEXT));
const Y_DEC_TEXT = YT.dec.map(labelFor(Y_TICK_VALS, Y_TICK_TEXT));

const traces = [];
const layout = {
  width:W, height:H, margin:{l:0,r:0,t:0,b:0,pad:0},
  paper_bgcolor:'#ffffff', plot_bgcolor:'rgba(0,0,0,0)', showlegend:false,
  font:{family:FONT, color:'#000'}, shapes:[], annotations:[]
};

function ann(text, px, py, o){
  return Object.assign({text, x:PX(px), y:PY(py), xref:'paper', yref:'paper', showarrow:false, xanchor:'center', yanchor:'middle'}, o);
}
function pts(arr, color, xa, ya){
  return {type:'scatter', mode:'markers', x:arr.map(d=>toV(d[0])), y:arr.map(d=>toV(d[1])), xaxis:xa, yaxis:ya,
    marker:{size:16.5, color:color, line:{width:0}}, hoverinfo:'skip', showlegend:false};
}
function line(arr, color, width, xa, ya){
  return {type:'scatter', mode:'lines', x:arr.map(d=>toV(d[0])), y:arr.map(d=>toV(d[1])), xaxis:xa, yaxis:ya,
    line:{color:color, width:width}, hoverinfo:'skip', showlegend:false};
}

// card with shadow
function rrPath(x0,y0,x1,y1,r){
  const P=(x,y)=>PX(x).toFixed(6)+','+PY(y).toFixed(6);
  return 'M'+P(x0+r,y0)+' L'+P(x1-r,y0)+' Q'+P(x1,y0)+' '+P(x1,y0+r)+' L'+P(x1,y1-r)+' Q'+P(x1,y1)+' '+P(x1-r,y1)+
    ' L'+P(x0+r,y1)+' Q'+P(x0,y1)+' '+P(x0,y1-r)+' L'+P(x0,y0+r)+' Q'+P(x0,y0)+' '+P(x0+r,y0)+' Z';
}
const CARD = [80,284,3411,2023], CARD_R = 105;
for(let k=10;k>=1;k--){
  layout.shapes.push({type:'path', xref:'paper', yref:'paper', layer:'below',
    path:rrPath(CARD[0]-k*1.2, CARD[1]+k*2, CARD[2]+k*1.2, CARD[3]+k*6.5, CARD_R),
    fillcolor:'rgba(0,0,0,0.045)', line:{width:0}});
}
layout.shapes.push({type:'path', xref:'paper', yref:'paper', layer:'below', path:rrPath(CARD[0],CARD[1],CARD[2],CARD[3],CARD_R),
  fillcolor:'#ffffff', line:{color:'rgba(0,0,0,0.06)', width:1.5}});

const GRID_MAJOR = {color:'#bdbdbd', width:2.5, dash:'10px,9px'};
const GRID_MINOR = {color:'#c4c4c4', width:2, dash:'2px,6px'};

PANELS.forEach((P,p)=>{
  const r = Math.floor(p/4), c = p%4, n = p+1;
  const xa = axRef('x',n), ya = axRef('y',n);
  const xd = xa+' domain', yd = ya+' domain';
  const xdom = [PX(COL_LEFT[c]), PX(COL_LEFT[c]+PANEL_W)];
  const ydom = [PY(ROW_TOP[r]+PANEL_H), PY(ROW_TOP[r])];
  layout[axName('x',n)] = {type:'log', domain:xdom, range:X_RANGE, anchor:ya, fixedrange:true,
    showline:true, linecolor:'#000', linewidth:5, mirror:'ticks',
    tickmode:'array', tickvals:XT.dec, ticktext:X_DEC_TEXT, showticklabels:r===1, ticklabelstandoff:16,
    ticks:'inside', ticklen:18, tickwidth:3, tickcolor:'#000',
    tickfont:{family:FONT, size:47, color:'#000'},
    minor:{tickmode:'array', tickvals:XT.other, ticks:'inside', ticklen:6, tickwidth:2.5, tickcolor:'#000', showgrid:false},
    showgrid:false, zeroline:false};
  layout[axName('y',n)] = {type:'log', domain:ydom, range:Y_RANGE, anchor:xa, fixedrange:true,
    showline:true, linecolor:'#000', linewidth:5, mirror:'ticks',
    tickmode:'array', tickvals:YT.dec, ticktext:Y_DEC_TEXT, showticklabels:c===0, ticklabelstandoff:16,
    ticks:'inside', ticklen:18, tickwidth:3, tickcolor:'#000',
    tickfont:{family:FONT, size:47, color:'#000'},
    minor:{tickmode:'array', tickvals:YT.other, ticks:'inside', ticklen:6, tickwidth:2.5, tickcolor:'#000', showgrid:false},
    showgrid:false, zeroline:false};

  // grid lines (major dashed, minor dotted)
  Y_TICK_VALS.forEach(v=>{ const f=yf(Math.log10(v));
    layout.shapes.push({type:'line', xref:xd, yref:yd, x0:0, x1:1, y0:f, y1:f, line:GRID_MAJOR, layer:'below'}); });
  Y_MINOR_GRID.forEach(v=>{ const f=yf(Math.log10(v));
    layout.shapes.push({type:'line', xref:xd, yref:yd, x0:0, x1:1, y0:f, y1:f, line:GRID_MINOR, layer:'below'}); });
  X_TICK_VALS.forEach(v=>{ const f=xf(Math.log10(v));
    layout.shapes.push({type:'line', xref:xd, yref:yd, x0:f, x1:f, y0:0, y1:1, line:GRID_MAJOR, layer:'below'}); });

  // medium ticks at 5×10^k on all four sides
  YT.five.forEach(v=>{ const f=yf(Math.log10(v)); if(f<=0.005||f>=0.995) return;
    [[0,0,12],[1,-12,0]].forEach(([anc,a,b])=>layout.shapes.push({type:'line', xref:xd, yref:yd, xsizemode:'pixel', xanchor:anc,
      x0:a, x1:b, y0:f, y1:f, line:{color:'#000', width:3}, layer:'above'})); });
  XT.five.forEach(v=>{ const f=xf(Math.log10(v)); if(f<=0.005||f>=0.995) return;
    [[0,0,12],[1,-12,0]].forEach(([anc,a,b])=>layout.shapes.push({type:'line', xref:xd, yref:yd, ysizemode:'pixel', yanchor:anc,
      y0:a, y1:b, x0:f, x1:f, line:{color:'#000', width:3}, layer:'above'})); });
  // outside ticks at labelled breaks
  if(c===0) Y_TICK_VALS.forEach(v=>{ const f=yf(Math.log10(v));
    layout.shapes.push({type:'line', xref:xd, yref:yd, xsizemode:'pixel', xanchor:0, x0:-18, x1:-2, y0:f, y1:f, line:{color:'#000', width:5}, layer:'above'}); });
  if(r===1) X_TICK_VALS.forEach(v=>{ const f=xf(Math.log10(v));
    layout.shapes.push({type:'line', xref:xd, yref:yd, ysizemode:'pixel', yanchor:0, y0:-19, y1:-2, x0:f, x1:f, line:{color:'#000', width:4}, layer:'above'}); });

  if(P.band){
    traces.push({type:'scatter', mode:'lines', x:P.band.map(d=>toV(d[0])), y:P.band.map(d=>toV(d[2])), xaxis:xa, yaxis:ya,
      line:{width:0}, hoverinfo:'skip', showlegend:false});
    traces.push({type:'scatter', mode:'lines', x:P.band.map(d=>toV(d[0])), y:P.band.map(d=>toV(d[1])), xaxis:xa, yaxis:ya,
      fill:'tonexty', fillcolor:'rgba(150,150,150,0.45)', line:{width:0}, hoverinfo:'skip', showlegend:false});
  }
  traces.push(line(P.fit, '#000000', 2.6, xa, ya));
  traces.push(pts(P.h, C_HUMAN, xa, ya));
  traces.push(pts(P.f, C_FOREST, xa, ya));
  traces.push(pts(P.s, C_SHRUB, xa, ya));
  traces.push(line(REF_LINE, '#ff0000', 3.5, xa, ya));
  // facet strip
  layout.shapes.push({type:'rect', xref:'paper', yref:'paper', layer:'below',
    x0:xdom[0], x1:xdom[1], y0:PY(ROW_TOP[r]-3), y1:PY(ROW_TOP[r]-54), fillcolor:'#d9d9d9', line:{width:0}});
  layout.annotations.push(ann('<b>'+P.name+'</b>', COL_LEFT[c]+PANEL_W/2, ROW_TOP[r]-27,
    {font:{family:FONT, size:35, color:'#1a1a1a'}}));
});

// legend inside first panel
const LEG_Y = [918,973,1027];
LEGEND_LABELS.forEach((lab,i)=>{
  layout.shapes.push({type:'circle', xref:'paper', yref:'paper', xsizemode:'pixel', ysizemode:'pixel',
    xanchor:PX(738), yanchor:PY(LEG_Y[i]), x0:-15, x1:15, y0:-15, y1:15, fillcolor:LEG_COLORS[i], line:{width:0}, layer:'above'});
  layout.annotations.push(ann(lab, 767, LEG_Y[i]+1, {xanchor:'left', font:{family:FONT, size:37, color:'#000'}}));
});

// texts
layout.annotations.push(ann('<b>Uncertain scaling behavior across “Humanscapes” in YRB</b>', 84, 137,
  {xanchor:'left', font:{family:FONT, size:119.5, color:NAVY}}));
layout.annotations.push(ann('Hyporheic Residence Times Quantiles', 392, 346,
  {xanchor:'left', font:{family:FONT, size:68, color:'#000'}}));
layout.annotations.push(ann('<b>Cumulative total respiration (gCO₂m⁻²d⁻¹)</b>', 200, 1161,
  {textangle:-90, font:{family:FONT, size:70, color:'#000'}}));
layout.annotations.push(ann('<b>Watershed area (km²)</b>', 1835, 1950,
  {font:{family:FONT, size:70, color:'#000'}}));
layout.annotations.push(ann('Yet, the scaling behavior becomes more uncertain as the frequency of stream segments', 108, 2126,
  {xanchor:'left', font:{family:FONT, size:82.5, color:NAVY}}));
layout.annotations.push(ann('running through “Humanscapes” (i.e., agriculture, pastures, cities) increases.', 108, 2245,
  {xanchor:'left', font:{family:FONT, size:82.5, color:NAVY}}));

Plotly.newPlot('chart', traces, layout, {displayModeBar:false, staticPlot:true});
</script></body></html>
